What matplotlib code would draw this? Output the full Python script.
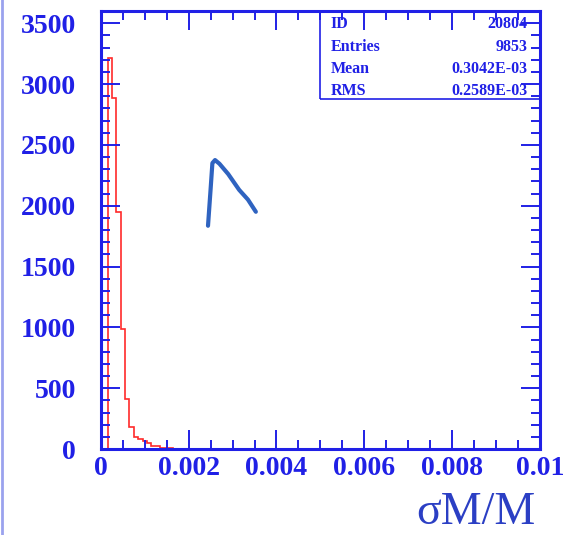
import matplotlib
matplotlib.use('Agg')
from matplotlib import pyplot as plt
from matplotlib.patches import Rectangle
from matplotlib.lines import Line2D
import numpy as np

# histogram content (bins of 1e-4)
bin_edges = [0.00015, 0.00025, 0.00035, 0.00045, 0.00055, 0.00065, 0.00075, 0.00085,
             0.00095, 0.00105, 0.00115, 0.00125, 0.00135, 0.00145, 0.00155, 0.00165, 0.00175]
counts = [3217, 2888, 1952, 987, 412, 179, 100, 85, 70, 50, 28, 22, 12, 8, 5, 3]

stat_names = ['ID', 'Entries', 'Mean', 'RMS']
stat_values = ['20804', '9853', '0.3042E-03', '0.2589E-03']

x_ticks = [0, 0.002, 0.004, 0.006, 0.008, 0.01]
x_ticklabels = ['0', '0.002', '0.004', '0.006', '0.008', '0.01']
y_ticks = [0, 500, 1000, 1500, 2000, 2500, 3000, 3500]

# hand drawn pen stroke on the slide
pen_x = [0.00244, 0.00250, 0.00254, 0.00260, 0.00270, 0.00290, 0.00315, 0.00335, 0.00353]
pen_y = [1835, 2140, 2350, 2375, 2345, 2260, 2130, 2050, 1950]

blue = '#2020e6'
fig = plt.figure(figsize=(5.67, 5.35), dpi=100)
ax = fig.add_axes([0.178, 0.1607, 0.774, 0.8187])

ax.stairs(counts, bin_edges, color='#ff2a2a', lw=1.2)
ax.plot(pen_x, pen_y, color='#2f63c0', lw=3, solid_capstyle='round', solid_joinstyle='round')

ax.set_xlim(0, 0.01)
ax.set_ylim(0, 3600)
ax.set_xticks(x_ticks)
ax.set_xticklabels(x_ticklabels)
ax.set_yticks(y_ticks)
ax.set_xticks(np.arange(0, 0.01001, 0.0005), minor=True)
ax.set_yticks(np.arange(0, 3601, 100), minor=True)

for s in ax.spines.values():
    s.set_color(blue)
    s.set_linewidth(2.2)
ax.tick_params(which='both', direction='in', top=True, right=True, color=blue,
               labelcolor=blue, width=1.4)
ax.tick_params(which='major', length=14)
ax.tick_params(which='minor', length=6.5)
ax.tick_params(axis='y', pad=18)
ax.tick_params(axis='x', pad=5)
for lab in ax.get_xticklabels() + ax.get_yticklabels():
    lab.set_family('Liberation Serif')
    lab.set_fontweight('bold')
    lab.set_fontsize(20)

ax.set_xlabel('σM/M', family='Liberation Serif', fontsize=33, color='#2b3fc4')
ax.xaxis.set_label_coords(0.991, -0.098)
ax.xaxis.label.set_horizontalalignment('right')

# stats box
ax.add_patch(Rectangle((0.499, 0.799), 0.52, 0.3, transform=ax.transAxes, fill=False,
                       edgecolor=blue, lw=1.2, clip_on=True))
row_y = [0.970, 0.918, 0.868, 0.818]
for name, val, yy in zip(stat_names, stat_values, row_y):
    ax.text(0.524, yy, name, transform=ax.transAxes, ha='left', va='center',
            family='Liberation Serif', fontweight='bold', fontsize=11.5, color=blue)
    ax.text(0.972, yy, val, transform=ax.transAxes, ha='right', va='center',
            family='Liberation Serif', fontweight='bold', fontsize=11.5, color=blue)

# slide border on the left
fig.add_artist(Line2D([0.004, 0.004], [0, 1], transform=fig.transFigure, color='#9aa2ee', lw=2))

plt.savefig('out.png', dpi=100)
